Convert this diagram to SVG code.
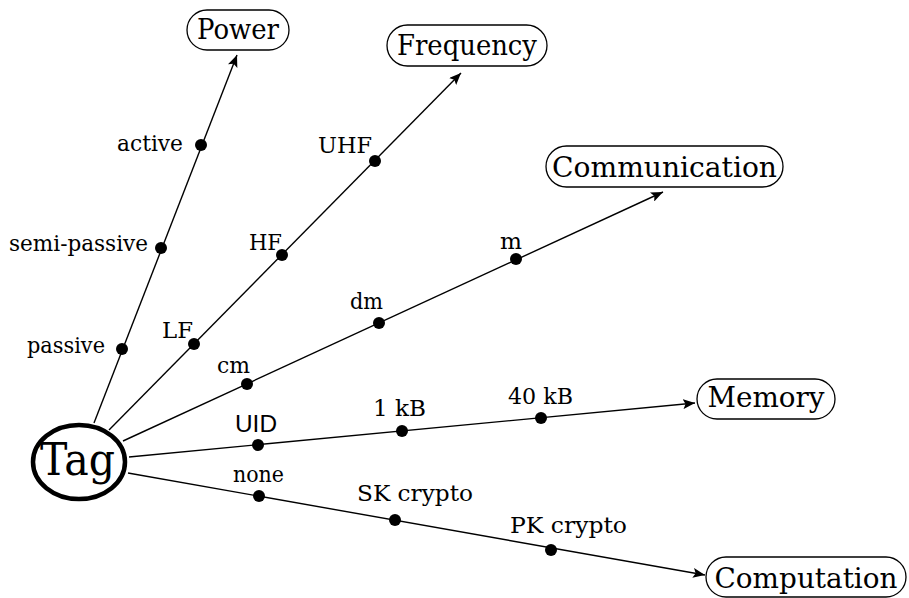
<svg xmlns="http://www.w3.org/2000/svg" width="909" height="598" viewBox="0 0 909 598">
<style>
.lbl{font-family:"DejaVu Serif","Liberation Serif",serif;font-size:23px;fill:#000}
.sans{font-family:"Liberation Sans","DejaVu Sans",sans-serif;font-size:24px;fill:#000}
.box{fill:#fff;stroke:#000;stroke-width:1.3}
.btxt{font-family:"DejaVu Serif","Liberation Serif",serif;font-size:28px;fill:#000;text-anchor:middle}
.tag{font-family:"DejaVu Serif","Liberation Serif",serif;font-size:45px;fill:#000;text-anchor:middle}
.edge{stroke:#000;stroke-width:1.4;fill:none;marker-end:url(#arr)}
.dot{fill:#000}
</style>
<defs>
<marker id="arr" markerUnits="userSpaceOnUse" markerWidth="14" markerHeight="10" refX="12" refY="5" orient="auto">
<path d="M0,0 L12,5 L0,10 L2.5,5 Z" fill="#000"/>
</marker>
</defs>
<rect width="909" height="598" fill="#fff"/>
<g id="connectors">
<line class="edge" x1="94" y1="423" x2="237" y2="55"/>
<line class="edge" x1="109" y1="430" x2="461" y2="73"/>
<line class="edge" x1="123" y1="441" x2="663" y2="192"/>
<line class="edge" x1="129" y1="457" x2="695" y2="403"/>
<line class="edge" x1="128" y1="473" x2="705" y2="575"/>
<circle class="dot" cx="122" cy="349" r="6"/>
<circle class="dot" cx="161" cy="248" r="6"/>
<circle class="dot" cx="201" cy="145" r="6"/>
<circle class="dot" cx="194" cy="344" r="6"/>
<circle class="dot" cx="282" cy="255" r="6"/>
<circle class="dot" cx="375" cy="161" r="6"/>
<circle class="dot" cx="247" cy="384" r="6"/>
<circle class="dot" cx="379" cy="323" r="6"/>
<circle class="dot" cx="516" cy="259" r="6"/>
<circle class="dot" cx="258" cy="445" r="6"/>
<circle class="dot" cx="402" cy="431" r="6"/>
<circle class="dot" cx="541" cy="418" r="6"/>
<circle class="dot" cx="259" cy="496" r="6"/>
<circle class="dot" cx="395" cy="520" r="6"/>
<circle class="dot" cx="551" cy="550" r="6"/>
</g>
<g id="labels">
<text class="lbl" x="117" y="151" textLength="66" lengthAdjust="spacingAndGlyphs">active</text>
<text class="lbl" x="9" y="251" textLength="139" lengthAdjust="spacingAndGlyphs">semi-passive</text>
<text class="lbl" x="27" y="353" textLength="78" lengthAdjust="spacingAndGlyphs">passive</text>
<text class="lbl" x="162" y="338" textLength="31" lengthAdjust="spacingAndGlyphs">LF</text>
<text class="lbl" x="249" y="250" textLength="33" lengthAdjust="spacingAndGlyphs">HF</text>
<text class="lbl" x="318" y="153" textLength="54" lengthAdjust="spacingAndGlyphs">UHF</text>
<text class="lbl" x="217" y="373" textLength="33" lengthAdjust="spacingAndGlyphs">cm</text>
<text class="lbl" x="350" y="309" textLength="33" lengthAdjust="spacingAndGlyphs">dm</text>
<text class="lbl" x="500" y="249" textLength="22" lengthAdjust="spacingAndGlyphs">m</text>
<text class="sans" x="235" y="432" textLength="42" lengthAdjust="spacingAndGlyphs">UID</text>
<text class="lbl" x="373" y="416" textLength="53" lengthAdjust="spacingAndGlyphs">1 kB</text>
<text class="lbl" x="508" y="404" textLength="65" lengthAdjust="spacingAndGlyphs">40 kB</text>
<text class="lbl" x="233" y="482" textLength="51" lengthAdjust="spacingAndGlyphs">none</text>
<text class="lbl" x="357" y="501" textLength="116" lengthAdjust="spacingAndGlyphs">SK crypto</text>
<text class="lbl" x="510" y="533" textLength="117" lengthAdjust="spacingAndGlyphs">PK crypto</text>
</g>
<g id="tag">
<ellipse cx="79" cy="462" rx="46" ry="37" fill="#fff" stroke="#000" stroke-width="4.5"/>
<text class="tag" x="77.5" y="475" textLength="75" lengthAdjust="spacingAndGlyphs">Tag</text>
</g>
<g id="power">
<rect class="box" x="187" y="10" width="102" height="40" rx="20"/>
<text class="btxt" x="238" y="39" textLength="82" lengthAdjust="spacingAndGlyphs">Power</text>
</g>
<g id="frequency">
<rect class="box" x="387" y="25" width="160" height="41" rx="20.5"/>
<text class="btxt" x="467" y="55" textLength="140" lengthAdjust="spacingAndGlyphs">Frequency</text>
</g>
<g id="communication">
<rect class="box" x="546" y="146" width="237" height="41" rx="20.5"/>
<text class="btxt" x="664.5" y="177" textLength="225" lengthAdjust="spacingAndGlyphs">Communication</text>
</g>
<g id="memory">
<rect class="box" x="697" y="379" width="138" height="40" rx="20"/>
<text class="btxt" x="766" y="407" textLength="117" lengthAdjust="spacingAndGlyphs">Memory</text>
</g>
<g id="computation">
<rect class="box" x="706" y="557" width="200" height="40" rx="20"/>
<text class="btxt" x="806" y="588" textLength="183" lengthAdjust="spacingAndGlyphs">Computation</text>
</g>
</svg>
